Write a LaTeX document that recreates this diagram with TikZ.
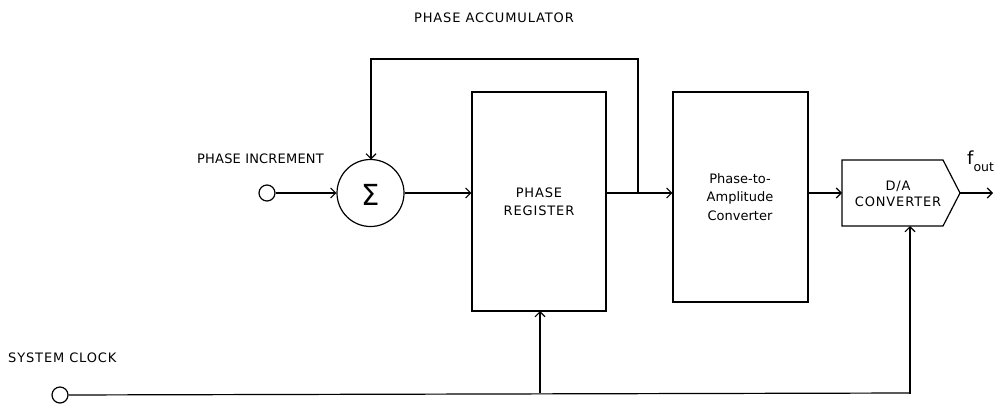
\documentclass[tikz,border=0pt]{standalone}
\usepackage{fontspec}
\setmainfont{DejaVu Sans}
\newfontfamily\capsfont[LetterSpace=6.6]{DejaVu Sans}
\newfontfamily\incfont[LetterSpace=1.5]{DejaVu Sans}
\usetikzlibrary{arrows.meta}
\begin{document}
\begin{tikzpicture}[x=1pt,y=-1pt,
  wire/.style={line width=1.2pt},
  arr/.style={wire,-{Straight Barb[length=5pt,width=10pt,line width=1.1pt]}},
  blk/.style={draw,line width=1.2pt,rectangle,inner sep=0pt},
  caps/.style={font=\capsfont\fontsize{13}{15.5}\selectfont,align=center,inner sep=0pt},
  body/.style={font=\fontsize{13}{18.5}\selectfont,align=center,inner sep=0pt},
  port/.style={draw,line width=1.2pt,circle,minimum size=16pt,inner sep=0pt,fill=white}]
\useasboundingbox (0,0) rectangle (995,405);

% free-standing labels
\node[caps] (acc) at (494,18) {PHASE ACCUMULATOR};
\node[caps,font=\incfont\fontsize{13}{15.5}\selectfont,anchor=west] (inclbl) at (197,159) {PHASE INCREMENT};
\node[caps,anchor=west] (clklbl) at (8,358) {SYSTEM CLOCK};

% summing junction and ports
\node[draw,line width=1.2pt,circle,minimum size=67pt,inner sep=0pt] (sum) at (370.5,193) {};
\node[inner sep=0pt] (sigma) at (371,195) {\fontsize{29}{30}\selectfont Σ};
\node[port] (inc) at (267,193) {};
\node[port] (clk) at (60,395) {};

% blocks
\node[blk,minimum width=134pt,minimum height=219pt] (reg) at (539,201.5) {};
\node[caps,font=\capsfont\fontsize{13}{18}\selectfont] (regtxt) at (539,201.5) {PHASE\\REGISTER};
\node[blk,minimum width=135pt,minimum height=210pt] (p2a) at (740.5,197) {};
\node[body] (p2atxt) at (740,197) {Phase-to-\\Amplitude\\Converter};

% D/A converter (pentagon pointing right)
\coordinate (dain) at (842,193);
\coordinate (daout) at (960,193);
\draw[line width=1.2pt] (842,160) -- (943,160) -- (daout) -- (943,226) -- (842,226) -- cycle;
\node[caps] (datxt) at (898,194) {D/A\\CONVERTER};
\coordinate (dabot) at (910,226);

% signal path
\coordinate (tap) at (638,193);
\coordinate (regout) at (606,193);
\draw[arr] (inc) -- (sum);
\draw[arr] (sum) -- (reg.west |- sum);
\draw[arr] (regout) -- (p2a.west |- regout);
\draw[wire] (tap) -- (638,59) -- (371,59);
\draw[arr] (371,58.4) -- (371,159.5);
\draw[arr] (p2a.east |- dain) -- (dain);
\coordinate (fend) at (993,193);
\draw[arr] (daout) -- (fend);
\node[anchor=base west,inner sep=0pt] (fout) at (967,164) {\fontsize{18}{20}\selectfont f\raisebox{-7pt}{\fontsize{12.5}{13}\selectfont out}};

% clock distribution
\coordinate (clkbr) at (540,393);
\draw[wire] (clk) -- (910,393);
\draw[arr] (910,393.6) -- (dabot);
\draw[arr] (clkbr) -- (540,311);
\end{tikzpicture}
\end{document}
